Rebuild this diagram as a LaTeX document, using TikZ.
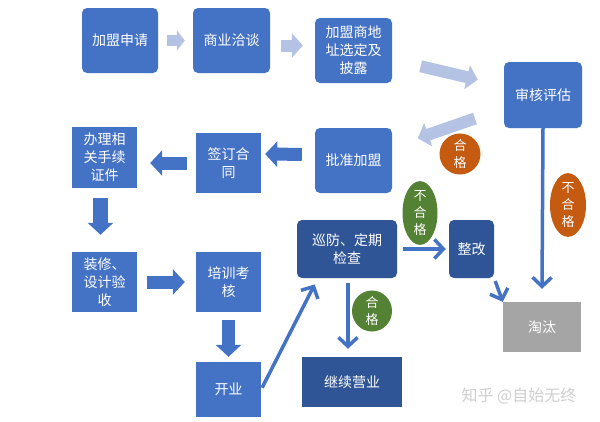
\documentclass[tikz,border=0pt]{standalone}
\usepackage{fontspec}
\setmainfont{Noto Sans CJK SC}
\usetikzlibrary{arrows.meta,shapes.geometric}
\definecolor{boxblue}{HTML}{4472C4}
\definecolor{darkblue}{HTML}{2F5597}
\definecolor{paleblue}{HTML}{B4C2E4}
\definecolor{okorange}{HTML}{C55A11}
\definecolor{okgreen}{HTML}{548235}
\definecolor{outgray}{HTML}{A5A5A5}
\definecolor{markgray}{HTML}{CFCFCF}

\begin{document}
\begin{tikzpicture}[x=1pt, y=-1pt]
    \tikzstyle{box} = [rectangle, fill=boxblue, text=white, inner sep=0pt, align=center, font=\fontsize{14}{18}\selectfont]
    \tikzstyle{roundbox} = [box, rounded corners=5pt]
    \tikzstyle{tag} = [ellipse, inner sep=0pt, text=white, align=center, font=\fontsize{13}{17}\selectfont]
    \tikzstyle{pale} = [draw=paleblue, line width=12pt, -{Triangle[width=24pt,length=11pt]}]
    \tikzstyle{fat} = [draw=boxblue, line width=13pt, -{Triangle[width=25pt,length=12pt]}]
    \tikzstyle{line} = [draw=boxblue, line width=3.5pt, -{Straight Barb[width=19pt,length=9pt]}]

    \fill [white] (0,0) rectangle (600,421);
    \useasboundingbox (0,0) rectangle (600,421);

    \node [roundbox, minimum width=76pt, minimum height=65pt] (apply) at (120,40.5) {加盟申请};
    \node [roundbox, minimum width=77pt, minimum height=65pt] (talk) at (231.5,40.5) {商业洽谈};
    \node [roundbox, minimum width=77pt, minimum height=65pt] (site) at (353.5,50.5) {加盟商地\\址选定及\\披露};
    \node [roundbox, minimum width=78pt, minimum height=66pt] (audit) at (543,95) {审核评估};
    \node [roundbox, minimum width=77pt, minimum height=65pt] (approve) at (353.5,160.5) {批准加盟};
    \node [box, minimum width=65pt, minimum height=60pt] (contract) at (228.5,163) {签订合\\同};
    \node [box, minimum width=65pt, minimum height=61pt] (permit) at (104.5,157.5) {办理相\\关手续\\证件};
    \node [box, minimum width=65pt, minimum height=60pt] (decor) at (104.5,282) {装修、\\设计验\\收};
    \node [box, minimum width=65pt, minimum height=60pt] (train) at (228.5,282) {培训考\\核};
    \node [box, minimum width=65pt, minimum height=55pt] (open) at (228.5,389.5) {开业};
    \node [roundbox, fill=darkblue, minimum width=100pt, minimum height=58pt] (patrol) at (347,249) {巡防、定期\\检查};
    \node [roundbox, fill=darkblue, minimum width=45pt, minimum height=58pt] (fix) at (471.5,249) {整改};
    \node [box, fill=darkblue, minimum width=100pt, minimum height=50pt] (cont) at (352,382) {继续营业};
    \node [box, fill=outgray, minimum width=78pt, minimum height=50pt] (out) at (542,327) {淘汰};

    \draw [pale, line width=11pt, -{Triangle[width=20pt,length=8pt]}, shorten <=9pt, shorten >=8pt] (apply) -- (talk);
    \draw [pale, shorten <=11pt, shorten >=12pt] ([yshift=-5pt]talk.east) -- ([yshift=5pt]site.west);
    \draw [pale, shorten <=69pt, shorten >=67pt] (site.center) -- (audit.center);
    \draw [pale, shorten <=72pt, shorten >=68pt] (audit.center) -- (approve.center);

    \draw [fat, shorten <=13pt, shorten >=4pt] ([yshift=6pt]approve.west) -- ([yshift=9pt]contract.east);
    \draw [fat, shorten <=9pt, shorten >=13pt] (contract.west) -- (contract.west -| permit.east);
    \draw [fat, line width=15pt, shorten <=10pt, shorten >=17pt] ([xshift=-4pt]permit.south) -- ([xshift=-4pt]decor.north);
    \draw [fat, shorten <=10pt, shorten >=11pt] (decor) -- (train);
    \draw [fat, shorten <=8pt, shorten >=5pt] (train) -- (open);

    \draw [line, shorten <=2pt, shorten >=7pt] (open.east) -- ([xshift=21pt]patrol.south west);
    \draw [line, shorten <=5pt, shorten >=8pt] ([xshift=1pt]patrol.south) -- ([xshift=1pt]patrol.south |- cont.north);
    \draw [line, shorten <=6pt, shorten >=3pt] (patrol.east) -- (fix.west);
    \draw [line, shorten <=3pt, shorten >=0pt] (fix.south east) -- (out.north west);
    \draw [line] (audit.south) -- ([yshift=13pt]out.north);

    \node [tag, fill=okorange, minimum width=41pt, minimum height=35pt] (pass1) at (460,154) {合\\格};
    \node [tag, fill=okgreen, minimum width=35pt, minimum height=57pt] (fail1) at (420,213) {不\\合\\格};
    \node [tag, fill=okgreen, minimum width=40pt, minimum height=36pt] (pass2) at (372,311) {合\\格};
    \node [tag, fill=okorange, minimum width=36pt, minimum height=58pt] (fail2) at (568,205) {不\\合\\格};

    \node [text=markgray, font=\fontsize{16}{18}\selectfont] (mark) at (519,396) {知乎 @自始无终};
\end{tikzpicture}
\end{document}
